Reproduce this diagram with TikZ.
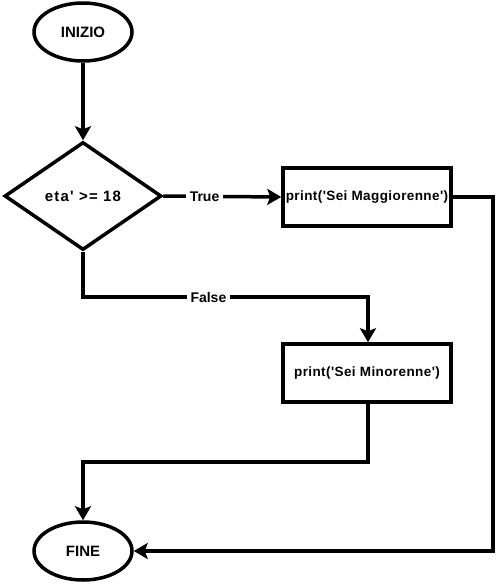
\documentclass[tikz,border=0pt]{standalone}
\usepackage{fontspec}
\setmainfont{Liberation Sans}[Ligatures=TeXOff]
\usetikzlibrary{arrows.meta,shapes.geometric}
\begin{document}
\begin{tikzpicture}[x=1pt,y=-1pt,
  every node/.style={font=\bfseries},
  term/.style={draw,line width=3.5pt,ellipse,minimum width=98pt,minimum height=58pt,inner sep=0pt,font=\bfseries\fontsize{15}{17}\selectfont},
  decis/.style={draw,line width=3.5pt,diamond,minimum width=157pt,minimum height=108pt,inner sep=0pt,aspect=1.44,font=\bfseries\fontsize{15}{17}\selectfont\addfontfeatures{LetterSpace=8}},
  proc/.style={draw,line width=3.5pt,rectangle,minimum width=168pt,minimum height=58pt,inner sep=0pt,font=\bfseries\fontsize{13.5}{16}\selectfont\addfontfeatures{LetterSpace=3}},
  conn/.style={line width=3.5pt,-{Stealth[length=14pt,width=16pt,inset=3pt]}},
  lbl/.style={fill=white,inner xsep=4pt,inner ysep=2pt,font=\bfseries\fontsize{14}{16}\selectfont}
]
\useasboundingbox (0,0) rectangle (502,584);
\node[term] (start) at (83,32) {INIZIO};
\node[decis] (cond) at (83,196) {eta' >= 18};
\node[proc] (magg) at (367,197) {print('Sei Maggiorenne')};
\node[proc] (mino) at (367,373) {print('Sei Minorenne')};
\node[term] (end) at (83,551) {FINE};
\coordinate (fb) at (83,297);
\coordinate (fr) at (368,297);
\coordinate (mr) at (493,197);
\coordinate (mb) at (493,551);
\coordinate (nb) at (368,462);
\coordinate (nl) at (83,462);
\draw[conn] (start) -- (cond);
\draw[conn] (cond.east) -- node[lbl,pos=0.35] {True} (magg.west);
\draw[conn] (cond.south) -- (fb) -- node[lbl,pos=0.44] {False} (fr) -- (mino.north -| fr);
\draw[conn] (magg.east) -- (mr) -- (mb) -- (end.east);
\draw[conn] (mino.south -| nb) -- (nb) -- (nl) -- (end.north);
\end{tikzpicture}
\end{document}
